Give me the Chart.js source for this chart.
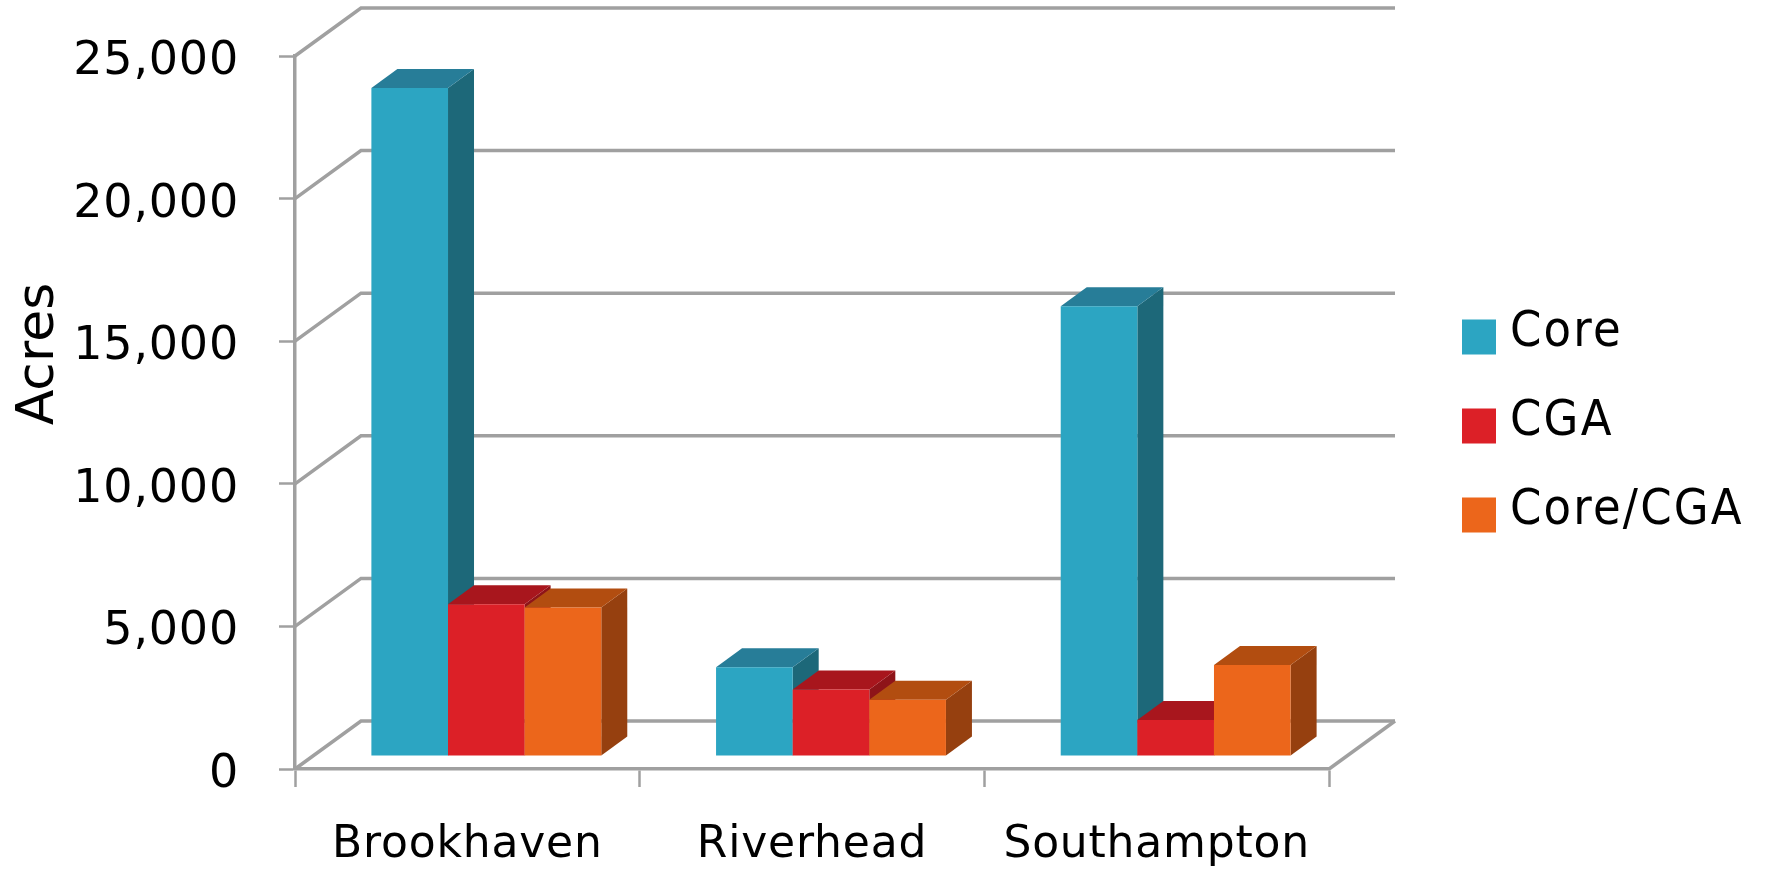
<!DOCTYPE html>
<html>
<head>
<meta charset="utf-8">
<script src="https://cdn.jsdelivr.net/npm/chart.js@4"></script>
<style>
html,body{margin:0;padding:0;background:#fff}
canvas{display:block}
</style>
</head>
<body>
<canvas id="c" width="1765" height="869"></canvas>
<script>
const categories = ["Brookhaven", "Riverhead", "Southampton"];
const core = [23420, 3115, 15770];
const cga = [5320, 2330, 1260];
const coreCga = [5205, 1970, 3195];
const yTicksMax = 25000;
const yTicksStep = 5000;
const yTitle = "Acres";

const FONT = '"DejaVu Sans"';
const LEGEND_FONT = '"DejaVu Sans Condensed","DejaVu Sans"';
const GRID = '#a0a0a0';
const faces = [
  {front:'#2ca5c2', side:'#1d6879', top:'#277d98'},
  {front:'#dc2027', side:'#8e1419', top:'#a8161d'},
  {front:'#ec661b', side:'#96400f', top:'#b24d10'}
];
const wallDX = 66, wallDY = 48, barShiftX = 19, barShiftY = 13, barDX = 26, barDY = 19;

const threeD = {
  id: 'threeD',
  beforeDraw(chart) {
    chart.ctx.letterSpacing = '0.8px';
  },
  beforeDatasetsDraw(chart) {
    const {ctx, scales:{x, y}} = chart;
    const L = x.left, R = x.right, B = y.bottom;
    ctx.save();
    ctx.strokeStyle = GRID; ctx.lineWidth = 3.5; ctx.lineCap = 'butt';
    y.ticks.forEach(t => {
      const py = y.getPixelForValue(t.value);
      ctx.beginPath();
      ctx.moveTo(L, py);
      ctx.lineTo(L + wallDX, py - wallDY);
      ctx.lineTo(R + wallDX, py - wallDY);
      ctx.stroke();
    });
    ctx.beginPath();
    ctx.moveTo(R, B);
    ctx.lineTo(R + wallDX, B - wallDY);
    ctx.stroke();
    ctx.translate(barShiftX, -barShiftY);
    chart.data.datasets.forEach((ds, i) => {
      const f = faces[i];
      chart.getDatasetMeta(i).data.forEach(bar => {
        const l = bar.x - bar.width / 2, r = bar.x + bar.width / 2, t = bar.y, b = bar.base;
        ctx.fillStyle = f.side;
        ctx.beginPath();
        ctx.moveTo(r, t); ctx.lineTo(r + barDX, t - barDY);
        ctx.lineTo(r + barDX, b - barDY); ctx.lineTo(r, b);
        ctx.closePath(); ctx.fill();
        ctx.fillStyle = f.top;
        ctx.beginPath();
        ctx.moveTo(l, t); ctx.lineTo(l + barDX, t - barDY);
        ctx.lineTo(r + barDX, t - barDY); ctx.lineTo(r, t);
        ctx.closePath(); ctx.fill();
        bar.draw(ctx);
      });
    });
    ctx.restore();
    return false;
  },
  afterDraw(chart) {
    const {ctx} = chart;
    ctx.save();
    ctx.letterSpacing = '0px';
    ctx.fillStyle = '#000';
    ctx.font = '52px ' + FONT;
    ctx.textAlign = 'center'; ctx.textBaseline = 'middle';
    ctx.translate(39, 354); ctx.rotate(-Math.PI / 2);
    ctx.fillText(yTitle, 0, 0);
    ctx.restore();
    ctx.save();
    ctx.textAlign = 'left'; ctx.textBaseline = 'middle';
    ctx.font = '50px ' + LEGEND_FONT;
    ctx.letterSpacing = '2.2px';
    chart.data.datasets.forEach((ds, i) => {
      const cy = 337 + i * 89;
      ctx.fillStyle = ds.backgroundColor;
      ctx.fillRect(1462, cy - 17.5, 34, 35);
      ctx.fillStyle = '#000';
      ctx.fillText(ds.label, 1510, cy - 4);
    });
    ctx.restore();
  }
};

new Chart(document.getElementById('c'), {
  type: 'bar',
  data: {
    labels: categories,
    datasets: [
      {label:'Core', data:core, backgroundColor:faces[0].front},
      {label:'CGA', data:cga, backgroundColor:faces[1].front},
      {label:'Core/CGA', data:coreCga, backgroundColor:faces[2].front}
    ]
  },
  plugins: [threeD],
  options: {
    responsive: false,
    animation: false,
    devicePixelRatio: 1,
    layout: {padding: {left: 0, top: 56, right: 436, bottom: 0}},
    datasets: {bar: {categoryPercentage: 0.667, barPercentage: 1, borderWidth: 0}},
    plugins: {legend: {display: false}, tooltip: {enabled: false}, title: {display: false}},
    scales: {
      x: {
        afterFit(s) { s.height = 100; },
        grid: {offset: true, drawOnChartArea: false, color: GRID, tickLength: 18, tickWidth: 2.5, drawTicks: true},
        border: {display: true, color: GRID, width: 3.5},
        ticks: {color: '#000', font: {family: FONT, size: 44}, padding: 32, maxRotation: 0, autoSkip: false}
      },
      y: {
        min: 0, max: yTicksMax,
        afterFit(s) { s.width = 295; s.paddingTop = 0; s.paddingBottom = 0; },
        grid: {drawOnChartArea: false, color: GRID, tickLength: 16, tickWidth: 2.5},
        border: {display: true, color: GRID, width: 3.5},
        ticks: {stepSize: yTicksStep, color: '#000', font: {family: FONT, size: 46}, padding: 40, labelOffset: 6}
      }
    }
  }
});
</script>
</body>
</html>
